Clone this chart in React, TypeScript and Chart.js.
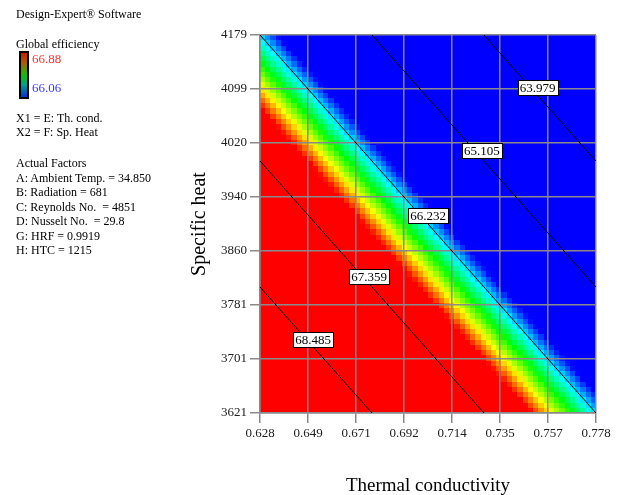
import React, { useEffect, useRef } from "react";
import { Chart, registerables } from "chart.js";

Chart.register(...registerables);

// ---- axis ranges & tick labels ----
const X_MIN = 0.628;
const X_MAX = 0.778;
const Y_MIN = 3621;
const Y_MAX = 4179;
const X_TICK_LABELS = ["0.628", "0.649", "0.671", "0.692", "0.714", "0.735", "0.757", "0.778"];
const Y_TICK_LABELS = ["3621", "3701", "3781", "3860", "3940", "4020", "4099", "4179"];

// ---- contour lines (data units) ----
const CONTOUR_LEVELS = [63.979, 65.105, 66.232, 67.359, 68.485];
const CONTOUR_START_X = [0.728, 0.678, 0.628, 0.628, 0.628];
const CONTOUR_START_Y = [4179, 4179, 4179, 3993, 3807];
const CONTOUR_END_X = [0.778, 0.778, 0.778, 0.728, 0.678];
const CONTOUR_END_Y = [3993, 3807, 3621, 3621, 3621];
const LABEL_X = [0.7519, 0.7271, 0.703, 0.6767, 0.6517];
const LABEL_Y = [4101.5, 4009, 3913, 3823, 3729.5];

// ---- colour scale ----
const COLOR_MIN = 66.06;
const COLOR_MAX = 66.88;

// ---- fitted response surface ----
const SURFACE_AT_ORIGIN = 66.232; // value at (0.628, 4179)
const SURFACE_SLOPE_X = -22.53; // per unit thermal conductivity
const SURFACE_SLOPE_Y = -0.006057; // per unit specific heat
const GRID_COLS = 64;
const GRID_ROWS = 72;

const FONT = "'Liberation Serif', 'Times New Roman', serif";
const GRID_COLOR = "#8a8a8a";

function surface(x: number, y: number) {
  return SURFACE_AT_ORIGIN + SURFACE_SLOPE_X * (x - X_MIN) + SURFACE_SLOPE_Y * (y - Y_MAX);
}

function rainbow(v: number) {
  let t = (v - COLOR_MIN) / (COLOR_MAX - COLOR_MIN);
  t = Math.max(0, Math.min(1, t));
  let r = 0, g = 0, b = 0;
  if (t < 0.25) { r = 0; g = 1020 * t; b = 255; }
  else if (t < 0.5) { r = 0; g = 255; b = 255 - 1020 * (t - 0.25); }
  else if (t < 0.75) { r = 1020 * (t - 0.5); g = 255; b = 0; }
  else { r = 255; g = 255 - 1020 * (t - 0.75); b = 0; }
  return `rgb(${Math.round(r)},${Math.round(g)},${Math.round(b)})`;
}

const heatmapPlugin = {
  id: "heatmap",
  beforeDraw(chart: any) {
    const { ctx } = chart;
    const xs = chart.scales.x;
    const ys = chart.scales.y;
    const dx = (X_MAX - X_MIN) / GRID_COLS;
    const dy = (Y_MAX - Y_MIN) / GRID_ROWS;
    const xEdges: number[] = [];
    for (let i = 0; i <= GRID_COLS; i++) xEdges.push(Math.round(xs.getPixelForValue(X_MIN + i * dx)));
    const yEdges: number[] = [];
    for (let j = 0; j <= GRID_ROWS; j++) yEdges.push(Math.round(ys.getPixelForValue(Y_MIN + j * dy)));
    ctx.save();
    for (let i = 0; i < GRID_COLS; i++) {
      const cx = X_MIN + (i + 0.5) * dx;
      for (let j = 0; j < GRID_ROWS; j++) {
        const cy = Y_MIN + (j + 0.5) * dy;
        ctx.fillStyle = rainbow(surface(cx, cy));
        ctx.fillRect(xEdges[i], yEdges[j + 1], xEdges[i + 1] - xEdges[i], yEdges[j] - yEdges[j + 1]);
      }
    }
    ctx.restore();
  },
};

const labelPlugin = {
  id: "contourLabels",
  afterDatasetsDraw(chart: any) {
    const { ctx } = chart;
    const xs = chart.scales.x;
    const ys = chart.scales.y;
    ctx.save();
    ctx.font = `13px ${FONT}`;
    ctx.textAlign = "center";
    ctx.textBaseline = "middle";
    CONTOUR_LEVELS.forEach((lvl, i) => {
      const text = lvl.toFixed(3);
      const px = xs.getPixelForValue(LABEL_X[i]);
      const py = ys.getPixelForValue(LABEL_Y[i]);
      const w = Math.round(ctx.measureText(text).width + 4);
      const h = 15;
      const bx = Math.round(px - w / 2) + 0.5;
      const by = Math.round(py - h / 2) + 0.5;
      ctx.fillStyle = "#fff";
      ctx.fillRect(bx, by, w, h);
      ctx.strokeStyle = "#000";
      ctx.lineWidth = 1;
      ctx.strokeRect(bx, by, w, h);
      ctx.fillStyle = "#000";
      ctx.fillText(text, px, py + 1);
    });
    ctx.restore();
  },
};

function ChartCanvas() {
  const ref = useRef<HTMLCanvasElement | null>(null);
  useEffect(() => {
    if (!ref.current) return;
    const datasets = CONTOUR_LEVELS.map((lvl, i) => ({
      label: String(lvl),
      data: [
        { x: CONTOUR_START_X[i], y: CONTOUR_START_Y[i] },
        { x: CONTOUR_END_X[i], y: CONTOUR_END_Y[i] },
      ],
      showLine: true,
      borderColor: "#000",
      borderWidth: 1,
      pointRadius: 0,
      fill: false,
    }));
    const chart = new Chart(ref.current, {
      type: "scatter",
      data: { datasets },
      options: {
        animation: false,
        responsive: false,
        events: [],
        layout: { padding: { left: 180, right: 24, top: 35, bottom: 0 } },
        plugins: { legend: { display: false }, tooltip: { enabled: false } },
        scales: {
          x: {
            type: "linear",
            min: X_MIN,
            max: X_MAX,
            afterBuildTicks(scale: any) {
              const n = X_TICK_LABELS.length;
              scale.ticks = X_TICK_LABELS.map((_, i) => ({ value: X_MIN + (i * (X_MAX - X_MIN)) / (n - 1) }));
            },
            afterFit(scale: any) {
              scale.height = 82;
            },
            ticks: {
              callback: (_v: any, i: number) => X_TICK_LABELS[i],
              font: { family: FONT, size: 13 },
              color: "#202020",
              padding: 3,
              maxRotation: 0,
              autoSkip: false,
            },
            grid: { color: GRID_COLOR, lineWidth: 1.5, tickLength: 10, tickColor: GRID_COLOR },
            border: { color: GRID_COLOR, width: 1.5 },
            title: {
              display: true,
              text: "Thermal conductivity",
              font: { family: FONT, size: 19 },
              color: "#000",
              padding: { top: 0, bottom: -2 },
            },
          },
          y: {
            type: "linear",
            min: Y_MIN,
            max: Y_MAX,
            afterBuildTicks(scale: any) {
              const n = Y_TICK_LABELS.length;
              scale.ticks = Y_TICK_LABELS.map((_, i) => ({ value: Y_MIN + (i * (Y_MAX - Y_MIN)) / (n - 1) }));
            },
            afterFit(scale: any) {
              scale.width = 80;
            },
            ticks: {
              callback: (_v: any, i: number) => Y_TICK_LABELS[i],
              font: { family: FONT, size: 13 },
              color: "#202020",
              padding: 3,
              autoSkip: false,
            },
            grid: { color: GRID_COLOR, lineWidth: 1.5, tickLength: 10, tickColor: GRID_COLOR },
            border: { color: GRID_COLOR, width: 1.5 },
            title: {
              display: true,
              text: "Specific heat",
              font: { family: FONT, size: 20 },
              color: "#000",
              padding: { top: 8, bottom: 0 },
            },
          },
        },
      } as any,
      plugins: [heatmapPlugin, labelPlugin],
    });
    return () => chart.destroy();
  }, []);
  return <canvas ref={ref} width={620} height={495} style={{ position: "absolute", left: 0, top: 0, width: 620, height: 495 }} />;
}

const txt = (top: number, left: number, content: string, extra: React.CSSProperties = {}) => (
  <div
    style={{
      position: "absolute",
      top,
      left,
      fontFamily: FONT,
      fontSize: 12,
      lineHeight: "14px",
      whiteSpace: "pre",
      color: "#000",
      ...extra,
    }}
  >
    {content}
  </div>
);

const FACTOR_LINES = [
  "A: Ambient Temp. = 34.850",
  "B: Radiation = 681",
  "C: Reynolds No.  = 4851",
  "D: Nusselt No.  = 29.8",
  "G: HRF = 0.9919",
  "H: HTC = 1215",
];

export default function App() {
  return (
    <div style={{ position: "fixed", left: 0, top: 0, width: 620, height: 495, background: "#fff", overflow: "hidden" }}>
      <ChartCanvas />
      {txt(7, 16, "Design-Expert® Software")}
      {txt(36.7, 16, "Global efficiency")}
      <div
        style={{
          position: "absolute",
          left: 19,
          top: 51,
          width: 6,
          height: 44,
          border: "2px solid #000",
          background: "linear-gradient(to bottom, #c81e00 0%, #b05a00 22%, #30b000 45%, #00c020 55%, #00a090 72%, #0030d0 100%)",
        }}
      />
      {txt(51.4, 32, "66.88", { fontSize: 13, lineHeight: "15px", color: "#ff3030" })}
      {txt(79.8, 32, "66.06", { fontSize: 13, lineHeight: "15px", color: "#3a3aff" })}
      {txt(110.7, 16, "X1 = E: Th. cond.")}
      {txt(125, 16, "X2 = F: Sp. Heat")}
      {txt(155.7, 16, "Actual Factors")}
      {FACTOR_LINES.map((l, i) => (
        <React.Fragment key={i}>{txt(170.7 + i * 14.45, 16, l)}</React.Fragment>
      ))}
    </div>
  );
}
